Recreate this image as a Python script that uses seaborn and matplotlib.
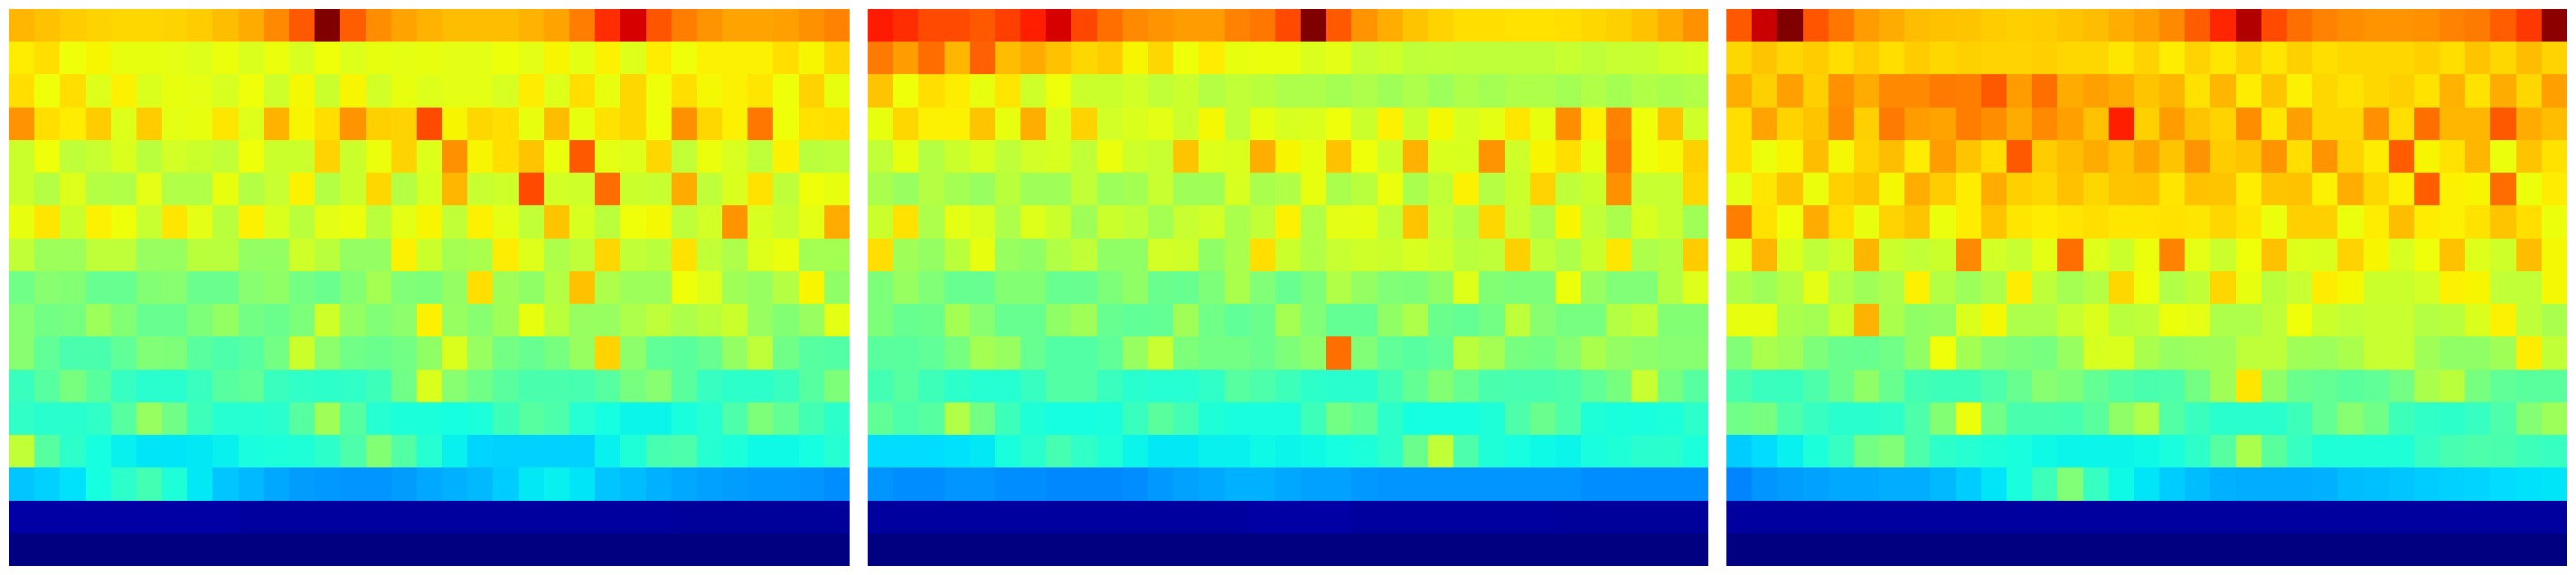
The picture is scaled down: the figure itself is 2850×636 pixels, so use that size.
import matplotlib
matplotlib.use('Agg')
import matplotlib.pyplot as plt
import seaborn as sns
import numpy as np

# values, top row first
panel_a = [
    [.715,.705,.695,.685,.68,.68,.685,.695,.71,.73,.765,.815,1.0,.81,.76,.735,.72,.71,.71,.71,.72,.735,.775,.86,.925,.82,.775,.75,.735,.735,.74,.755,.77],
    [.66,.675,.64,.65,.63,.63,.625,.62,.635,.615,.635,.61,.64,.62,.63,.625,.63,.625,.625,.64,.625,.65,.625,.655,.62,.66,.64,.655,.655,.655,.675,.65,.68],
    [.675,.64,.675,.62,.655,.615,.63,.625,.61,.64,.60,.645,.595,.65,.605,.63,.62,.625,.625,.61,.66,.62,.675,.63,.68,.64,.675,.645,.655,.665,.64,.685,.63],
    [.75,.675,.66,.695,.62,.695,.625,.63,.665,.62,.72,.65,.675,.75,.69,.685,.83,.65,.68,.675,.63,.71,.63,.67,.68,.64,.755,.68,.655,.785,.64,.67,.675],
    [.595,.64,.58,.59,.615,.575,.605,.595,.585,.64,.595,.595,.685,.595,.635,.685,.62,.755,.65,.675,.70,.635,.815,.625,.62,.68,.585,.635,.61,.58,.655,.575,.58],
    [.595,.57,.62,.57,.565,.625,.565,.565,.63,.57,.59,.655,.57,.595,.68,.57,.61,.715,.59,.60,.83,.605,.60,.795,.595,.59,.73,.58,.615,.67,.58,.64,.63],
    [.63,.665,.595,.655,.64,.59,.665,.625,.575,.655,.615,.575,.625,.635,.575,.625,.65,.585,.655,.625,.585,.70,.61,.575,.64,.645,.58,.605,.75,.61,.59,.625,.73],
    [.585,.54,.54,.58,.58,.535,.535,.575,.575,.53,.53,.60,.575,.53,.53,.655,.595,.55,.555,.66,.62,.56,.58,.68,.585,.575,.67,.585,.56,.62,.635,.55,.55],
    [.485,.515,.51,.475,.475,.51,.515,.48,.48,.515,.525,.49,.48,.51,.55,.505,.50,.53,.675,.545,.525,.57,.705,.56,.54,.54,.64,.62,.545,.535,.57,.65,.525],
    [.515,.49,.495,.54,.51,.475,.475,.50,.53,.49,.48,.50,.60,.53,.505,.52,.655,.535,.515,.545,.63,.575,.535,.535,.56,.58,.56,.575,.595,.535,.51,.535,.625],
    [.515,.465,.44,.44,.465,.505,.50,.46,.445,.455,.49,.595,.52,.485,.48,.49,.525,.615,.535,.49,.475,.495,.535,.685,.52,.465,.46,.475,.53,.58,.485,.455,.45],
    [.42,.455,.495,.46,.415,.40,.40,.42,.455,.465,.42,.41,.405,.41,.425,.485,.615,.515,.485,.46,.44,.44,.435,.455,.495,.515,.46,.415,.405,.405,.42,.455,.50],
    [.41,.40,.40,.41,.455,.535,.485,.425,.395,.395,.40,.455,.545,.455,.395,.385,.385,.375,.385,.425,.455,.445,.395,.375,.365,.365,.38,.395,.445,.50,.47,.43,.405],
    [.585,.455,.405,.375,.36,.35,.35,.355,.36,.38,.385,.39,.405,.445,.51,.45,.395,.36,.335,.33,.33,.33,.33,.36,.39,.435,.445,.395,.385,.37,.37,.375,.395],
    [.32,.33,.345,.375,.405,.43,.39,.355,.32,.305,.29,.28,.275,.27,.27,.28,.29,.30,.305,.325,.355,.36,.35,.32,.31,.30,.29,.285,.28,.275,.275,.27,.265],
    [.035,.035,.035,.035,.035,.035,.035,.035,.035,.03,.03,.03,.03,.03,.03,.03,.03,.03,.03,.03,.03,.03,.03,.03,.03,.03,.025,.025,.025,.025,.025,.025,.025],
    [.002,.002,.002,.002,.002,.002,.002,.002,.002,.0,.0,.0,.0,.0,.0,.0,.0,.0,.0,.0,.0,.0,.0,.0,.0,.0,.0,.0,.0,.0,.0,.0,.0],
]

panel_b = [
    [.88,.86,.83,.83,.815,.84,.875,.925,.835,.79,.765,.75,.745,.745,.77,.785,.83,1.0,.815,.75,.725,.70,.685,.675,.675,.67,.67,.675,.68,.69,.705,.73,.755],
    [.78,.745,.795,.715,.805,.71,.73,.705,.68,.695,.65,.68,.64,.66,.63,.635,.635,.615,.625,.59,.60,.58,.585,.58,.58,.58,.58,.59,.58,.59,.59,.605,.61],
    [.70,.64,.675,.66,.63,.665,.60,.64,.595,.595,.605,.585,.595,.57,.585,.575,.56,.56,.55,.56,.545,.56,.54,.56,.55,.56,.56,.55,.565,.55,.565,.555,.565],
    [.63,.68,.655,.655,.70,.63,.725,.615,.685,.605,.615,.625,.595,.645,.585,.63,.61,.615,.64,.595,.655,.595,.645,.61,.625,.665,.63,.76,.655,.77,.64,.70,.60],
    [.585,.63,.57,.595,.615,.58,.605,.61,.585,.635,.60,.59,.70,.62,.615,.725,.65,.63,.705,.64,.60,.72,.615,.61,.75,.60,.65,.675,.63,.78,.64,.645,.69],
    [.555,.535,.57,.55,.535,.575,.545,.545,.585,.54,.55,.59,.545,.545,.61,.555,.565,.63,.555,.575,.635,.555,.585,.655,.57,.595,.685,.58,.595,.755,.59,.59,.68],
    [.595,.67,.56,.625,.615,.56,.62,.595,.545,.595,.585,.55,.59,.605,.555,.585,.655,.565,.625,.625,.585,.70,.59,.565,.68,.59,.56,.65,.585,.555,.61,.59,.545],
    [.675,.545,.53,.575,.63,.535,.525,.565,.585,.525,.525,.605,.60,.525,.555,.675,.595,.565,.59,.60,.595,.61,.60,.575,.58,.69,.585,.56,.595,.665,.56,.57,.695],
    [.50,.535,.505,.475,.475,.51,.51,.475,.475,.50,.525,.48,.475,.50,.555,.505,.475,.50,.565,.53,.505,.50,.525,.62,.51,.50,.50,.635,.535,.505,.505,.57,.62],
    [.50,.475,.48,.55,.515,.475,.475,.525,.545,.475,.465,.47,.545,.485,.465,.48,.55,.505,.47,.47,.525,.56,.48,.47,.49,.58,.515,.495,.495,.57,.585,.51,.51],
    [.46,.46,.465,.495,.55,.535,.475,.45,.45,.465,.535,.59,.50,.49,.49,.48,.50,.52,.79,.505,.465,.455,.465,.575,.55,.495,.49,.515,.555,.53,.52,.515,.515],
    [.43,.455,.425,.405,.395,.395,.415,.45,.45,.42,.40,.395,.395,.41,.455,.445,.425,.405,.40,.40,.43,.47,.51,.475,.44,.435,.435,.445,.465,.495,.59,.495,.455],
    [.465,.445,.455,.565,.49,.425,.39,.375,.375,.38,.42,.46,.43,.39,.38,.38,.38,.425,.49,.465,.405,.375,.375,.375,.39,.445,.48,.445,.39,.38,.38,.385,.405],
    [.34,.34,.34,.345,.355,.38,.40,.435,.41,.39,.365,.355,.355,.36,.36,.37,.365,.37,.375,.385,.405,.48,.585,.445,.39,.375,.37,.365,.38,.39,.40,.40,.385],
    [.27,.265,.265,.27,.27,.265,.265,.26,.26,.26,.265,.275,.285,.29,.30,.30,.29,.285,.285,.275,.27,.27,.27,.27,.27,.27,.27,.27,.265,.265,.265,.265,.265],
    [.03,.03,.03,.03,.03,.03,.03,.03,.03,.03,.03,.03,.03,.03,.03,.035,.035,.035,.035,.03,.03,.03,.03,.03,.03,.03,.03,.025,.025,.025,.025,.025,.025],
    [.0,.0,.0,.0,.0,.0,.0,.0,.0,.0,.0,.0,.0,.0,.0,.0,.0,.0,.0,.0,.0,.0,.0,.0,.0,.0,.0,.0,.0,.0,.0,.0,.0],
]

panel_c = [
    [.815,.935,1.0,.82,.785,.745,.73,.71,.705,.70,.695,.69,.695,.70,.71,.725,.74,.765,.81,.87,.955,.83,.79,.77,.76,.75,.75,.755,.77,.78,.81,.85,.985],
    [.68,.70,.68,.695,.675,.695,.675,.695,.68,.69,.685,.685,.69,.68,.68,.665,.685,.66,.685,.665,.69,.665,.69,.675,.68,.68,.68,.69,.675,.70,.68,.71,.685],
    [.725,.69,.74,.69,.755,.73,.765,.765,.78,.775,.815,.745,.79,.73,.74,.73,.70,.715,.67,.715,.66,.70,.655,.68,.67,.68,.69,.67,.72,.67,.73,.68,.74],
    [.675,.735,.685,.70,.765,.69,.78,.745,.735,.775,.76,.73,.765,.74,.705,.875,.69,.745,.70,.685,.76,.665,.74,.68,.68,.755,.675,.79,.715,.715,.815,.73,.71],
    [.675,.635,.65,.71,.645,.685,.71,.66,.745,.70,.675,.815,.695,.71,.73,.705,.735,.70,.75,.695,.70,.75,.675,.75,.685,.66,.81,.65,.67,.715,.635,.70,.67],
    [.625,.665,.70,.635,.69,.70,.645,.725,.695,.66,.73,.69,.68,.705,.68,.70,.705,.665,.705,.70,.66,.70,.705,.655,.725,.68,.655,.81,.655,.65,.795,.635,.66],
    [.775,.67,.64,.73,.675,.63,.685,.70,.635,.66,.70,.665,.66,.665,.675,.665,.665,.67,.665,.68,.665,.635,.69,.69,.635,.66,.71,.66,.655,.67,.70,.675,.635],
    [.625,.715,.615,.58,.60,.715,.595,.585,.595,.765,.605,.59,.625,.79,.62,.595,.635,.77,.625,.595,.64,.705,.62,.615,.685,.65,.61,.64,.705,.62,.60,.71,.645],
    [.56,.545,.57,.625,.565,.545,.56,.655,.57,.54,.56,.66,.58,.55,.57,.68,.64,.565,.585,.68,.63,.575,.59,.66,.645,.595,.595,.605,.655,.65,.585,.585,.645],
    [.63,.63,.555,.55,.595,.72,.555,.525,.53,.615,.645,.56,.56,.59,.615,.575,.58,.635,.625,.56,.56,.58,.64,.595,.585,.59,.59,.57,.575,.615,.655,.58,.555],
    [.505,.555,.545,.50,.48,.475,.485,.525,.64,.55,.515,.50,.495,.535,.61,.615,.555,.535,.54,.545,.58,.58,.545,.54,.555,.59,.59,.545,.525,.525,.545,.66,.585],
    [.44,.42,.42,.445,.48,.525,.475,.43,.425,.425,.445,.475,.515,.50,.47,.45,.44,.445,.49,.545,.665,.525,.48,.47,.46,.465,.49,.555,.575,.495,.465,.46,.46],
    [.485,.495,.445,.415,.40,.40,.405,.445,.51,.635,.485,.44,.44,.435,.46,.525,.565,.45,.42,.40,.40,.40,.425,.47,.515,.485,.425,.41,.405,.415,.445,.51,.54],
    [.325,.34,.36,.385,.415,.49,.505,.445,.405,.395,.39,.38,.37,.365,.365,.365,.37,.38,.405,.455,.555,.46,.415,.39,.39,.39,.39,.415,.435,.445,.44,.425,.415],
    [.255,.27,.28,.285,.29,.29,.295,.295,.305,.325,.35,.38,.425,.505,.415,.37,.35,.325,.31,.30,.295,.295,.295,.30,.31,.315,.32,.325,.33,.335,.34,.345,.35],
    [.03,.03,.03,.03,.03,.03,.03,.03,.03,.03,.03,.03,.03,.03,.03,.03,.03,.03,.03,.03,.03,.03,.03,.03,.03,.03,.03,.03,.03,.03,.03,.03,.03],
    [.002,.002,.001,.001,.001,.0,.0,.0,.0,.0,.0,.0,.0,.0,.0,.0,.0,.0,.0,.0,.0,.0,.0,.0,.0,.0,.0,.0,.0,.0,.0,.0,.0],
]

panels = [panel_a, panel_b, panel_c]
lefts = [10, 960, 1910]

W, H = 2850, 636
fig = plt.figure(figsize=(W / 100, H / 100), dpi=100)
for data, left in zip(panels, lefts):
    ax = fig.add_axes([left / W, 10 / H, 930 / W, 616 / H])
    sns.heatmap(np.array(data), cmap='jet', vmin=0, vmax=1, cbar=False,
                xticklabels=False, yticklabels=False, ax=ax)
fig.savefig('out.png', dpi=100)
plt.close(fig)
